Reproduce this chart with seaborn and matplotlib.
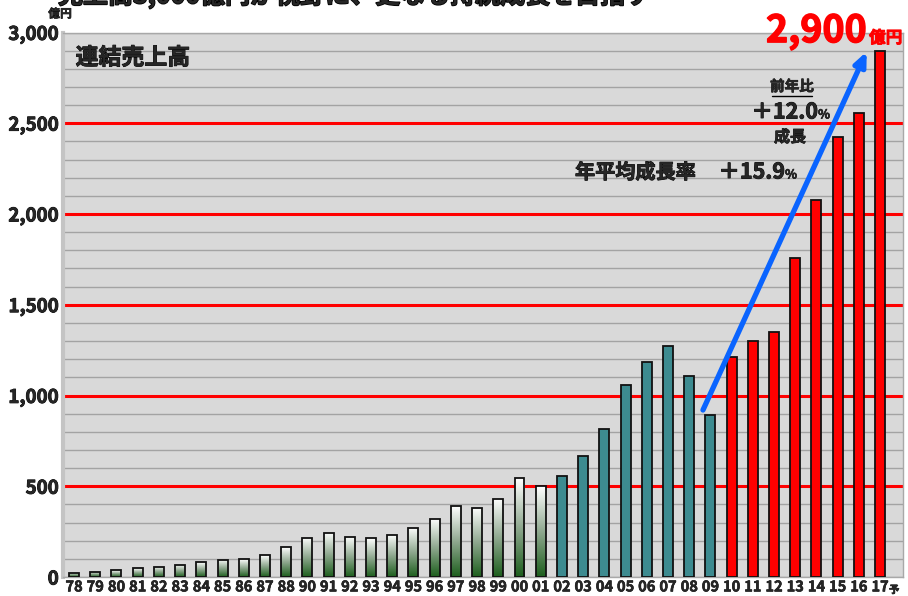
import numpy as np
import pandas as pd
import matplotlib
matplotlib.use("Agg")
import matplotlib.pyplot as plt
import matplotlib.patheffects as pe
from matplotlib.colors import LinearSegmentedColormap, to_hex
import seaborn as sns

# ---- data ----
years = ['78', '79', '80', '81', '82', '83', '84', '85', '86', '87', '88',
         '90', '91', '92', '93', '94', '95', '96', '97', '98', '99',
         '00', '01', '02', '03', '04', '05', '06', '07', '08', '09',
         '10', '11', '12', '13', '14', '15', '16', '17']
sales = [23, 30, 36, 47, 56, 67, 82, 95, 99, 119, 165,
         215, 243, 222, 213, 234, 272, 322, 391, 382, 430,
         545, 501, 555, 668, 818, 1057, 1187, 1273, 1106, 894,
         1214, 1302, 1349, 1758, 2075, 2425, 2555, 2900]
periods = (['early'] * 23) + (['middle'] * 8) + (['recent'] * 8)
yticks = [0, 500, 1000, 1500, 2000, 2500, 3000]
ytick_labels = ['0', '500', '1,000', '1,500', '2,000', '2,500', '3,000']

df = pd.DataFrame({'year': years, 'sales': sales, 'period': periods})

sns.set_style("white")
plt.rcParams['font.family'] = ['Noto Sans CJK JP', 'DejaVu Sans']
plt.rcParams['font.weight'] = 'bold'


def thick(color='black', w=0.9):
    return [pe.withStroke(linewidth=w, foreground=color)]


fig = plt.figure(figsize=(9.08, 5.96), dpi=100)
ax = fig.add_axes([63 / 908, 1 - 577 / 596, (903 - 63) / 908, (577 - 32.5) / 596])
ax.set_facecolor('#d9d9d9')

palette = {'early': '#ffffff', 'middle': '#3d8b90', 'recent': '#ff0000'}
sns.barplot(data=df, x='year', y='sales', hue='period', palette=palette,
            order=years, dodge=False, width=0.47, edgecolor='#111111',
            linewidth=1.3, legend=False, ax=ax, zorder=3, saturation=1)

XL = (-0.52, 39.08)
ax.set_xlim(*XL)
ax.set_ylim(0, 3000)

# gridlines
ax.set_yticks(yticks)
ax.set_yticks(np.arange(0, 3001, 100), minor=True)
ax.grid(which='minor', axis='y', color='#a3a3a3', lw=1.0, zorder=1)
ax.grid(which='major', axis='y', color='#a3a3a3', lw=1.0, zorder=1)
ax.set_axisbelow(True)
for v in yticks[1:-1]:
    ax.axhline(v, color='#ff0000', lw=2.2, zorder=1.5)

# gradient fill for early bars
cmap = LinearSegmentedColormap.from_list('wg', ['#1c5e1c', '#8fa88f', '#ffffff'])
grad = np.linspace(0, 1, 256).reshape(-1, 1)
for p in list(ax.patches):
    if to_hex(p.get_facecolor()) == '#ffffff':
        x0, y0, w, h = p.get_x(), p.get_y(), p.get_width(), p.get_height()
        im = ax.imshow(grad, cmap=cmap, origin='lower', aspect='auto',
                       extent=[x0, x0 + w, y0, y0 + h], zorder=2.9)
        im.set_clip_path(p)
        p.set_facecolor('none')
ax.set_xlim(*XL)
ax.set_ylim(0, 3000)

# spines
for s in ['top', 'right', 'bottom']:
    ax.spines[s].set_color('#a8a8a8')
    ax.spines[s].set_linewidth(1.0)
ax.spines['left'].set_color('#c4c4c4')
ax.spines['left'].set_linewidth(3)

# tick labels
ax.set_yticklabels(ytick_labels, fontsize=13.5, fontweight='bold')
for t in ax.get_yticklabels():
    t.set_path_effects(thick(w=0.6))
xl = years[:-1] + ['17']
ax.set_xticks(range(len(years)))
ax.set_xticklabels(xl, fontsize=10.5, fontweight='bold')
for t in ax.get_xticklabels():
    t.set_path_effects(thick(w=0.4))
ax.tick_params(axis='both', which='both', length=0)
ax.tick_params(axis='x', pad=1)
ax.tick_params(axis='y', pad=3)
ax.set_xlabel('')
ax.set_ylabel('')
ax.text(38.42, -0.024, '予', transform=ax.get_xaxis_transform(), fontsize=7.5,
        fontweight='bold', ha='left', va='center', path_effects=thick(w=0.4))

# texts
fig.text(60 / 908, 1 - 14 / 596, '億円', fontsize=8.5, fontweight='bold',
         ha='center', va='center', path_effects=thick(w=0.4))
fig.text(58 / 908, 1 + 5 / 596, '売上高3,000億円が視野に、更なる持続成長を目指す',
         fontsize=18, fontweight='bold', ha='left', va='center', path_effects=thick(w=1.2))
ax.text(0.015, 0.953, '連結売上高', transform=ax.transAxes, fontsize=16.5,
        fontweight='bold', ha='left', va='center', path_effects=thick(w=0.6))

fig.text(766 / 908, 1 - 31 / 596, '2,900', color='#ff0000', fontsize=27,
         fontweight='bold', ha='left', va='center',
         path_effects=thick('#ff0000', 1.0))
fig.text(869 / 908, 1 - 38 / 596, '億円', color='#ff0000', fontsize=12,
         fontweight='bold', ha='left', va='center', path_effects=thick('#ff0000', 0.6))

fig.text(792 / 908, 1 - 86 / 596, '前年比', fontsize=10.5, fontweight='bold',
         ha='center', va='center', path_effects=thick(w=0.4))
fig.add_artist(plt.Line2D([772 / 908, 812 / 908], [1 - 96 / 596, 1 - 96 / 596],
                          color='black', lw=1))
fig.text(818 / 908, 1 - 112 / 596, '＋12.0', fontsize=15.5, fontweight='bold',
         ha='right', va='center', path_effects=thick(w=0.6))
fig.text(818 / 908, 1 - 115 / 596, '%', fontsize=9, fontweight='bold',
         ha='left', va='center', path_effects=thick(w=0.4))
fig.text(790 / 908, 1 - 137 / 596, '成長', fontsize=11.5, fontweight='bold',
         ha='center', va='center', path_effects=thick(w=0.5))
fig.text(575 / 908, 1 - 172 / 596, '年平均成長率', fontsize=14.5, fontweight='bold',
         ha='left', va='center', path_effects=thick(w=0.6))
fig.text(785 / 908, 1 - 172 / 596, '＋15.9', fontsize=15.5, fontweight='bold',
         ha='right', va='center', path_effects=thick(w=0.6))
fig.text(785 / 908, 1 - 175 / 596, '%', fontsize=9, fontweight='bold',
         ha='left', va='center', path_effects=thick(w=0.4))

# growth arrow
ax.annotate('', xy=(37.37, 2895), xytext=(29.65, 920),
            arrowprops=dict(arrowstyle='-|>,head_length=0.8,head_width=0.35',
                            color='#0a64ff', lw=3.8, shrinkA=0, shrinkB=0),
            zorder=5)

fig.savefig('out.png', dpi=100)
